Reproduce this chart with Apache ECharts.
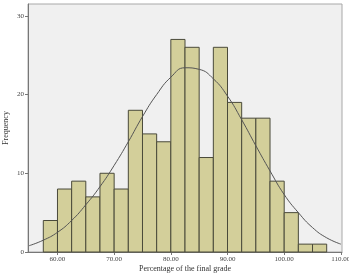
<!DOCTYPE html>
<html>
<head>
<meta charset="utf-8">
<script src="https://cdn.jsdelivr.net/npm/echarts@6/dist/echarts.min.js"></script>
<style>
  html, body { margin: 0; padding: 0; background: #fff; }
  #chart { width: 349px; height: 276px; }
</style>
</head>
<body>
<div id="chart"></div>
<script>
// histogram bins (lower edge) and counts
const binStart = [57.5, 60, 62.5, 65, 67.5, 70, 72.5, 75, 77.5, 80, 82.5, 85, 87.5, 90, 92.5, 95, 97.5, 100, 102.5, 105]
const binCount = [4, 8, 9, 7, 10, 8, 18, 15, 14, 27, 26, 12, 26, 19, 17, 17, 9, 5, 1, 1]
const binWidth = 2.5

// normal curve
const curveX = [55, 57.5, 60, 62.5, 65, 67.5, 70, 72.5, 75, 77.5, 80, 82.5, 85, 87.5, 90, 92.5, 95, 97.5, 100, 102.5, 105, 107.5, 110]
const curveY = [0.8, 1.5, 2.5, 4.0, 6.0, 8.3, 11.0, 14.0, 17.2, 20.0, 22.2, 23.4, 23.2, 22.0, 19.8, 16.8, 13.5, 10.3, 7.3, 5.0, 3.1, 1.8, 1.0]

const xTicks = [60, 70, 80, 90, 100, 110]
const yTicks = [0, 10, 20, 30]

const chart = echarts.init(document.getElementById('chart'))

const tickFont = { fontFamily: 'Liberation Serif', fontSize: 7, color: '#444' }

chart.setOption({
  animation: false,
  grid: {
    left: 28, right: 7, top: 4, bottom: 24,
    outerBoundsMode: 'none',
    containLabel: false,
    show: true,
    backgroundColor: '#F0F0F0',
    borderColor: '#A8A8A8',
    borderWidth: 1
  },
  xAxis: {
    type: 'value',
    min: 54.8,
    max: 110.2,
    name: 'Percentage of the final grade',
    nameLocation: 'middle',
    nameGap: 13,
    nameMoveOverlap: false,
    nameTextStyle: { fontFamily: 'Liberation Serif', fontSize: 8, color: '#333' },
    axisLine: { lineStyle: { color: '#777' } },
    axisTick: { customValues: xTicks, length: 3, lineStyle: { color: '#777' } },
    axisLabel: {
      customValues: xTicks,
      margin: 4,
      formatter: v => v.toFixed(2),
      ...tickFont
    },
    splitLine: { show: false }
  },
  yAxis: {
    type: 'value',
    min: 0,
    max: 31.5,
    name: 'Frequency',
    nameLocation: 'middle',
    nameGap: 18,
    nameMoveOverlap: false,
    nameTextStyle: { fontFamily: 'Liberation Serif', fontSize: 8, color: '#333' },
    axisLine: { show: true, lineStyle: { color: '#777' } },
    axisTick: { show: true, customValues: yTicks, length: 3, lineStyle: { color: '#777' } },
    axisLabel: { customValues: yTicks, margin: 4, ...tickFont },
    splitLine: { show: false }
  },
  series: [
    {
      type: 'custom',
      data: binStart.map((s, i) => [s, binCount[i]]),
      renderItem: (params, api) => {
        const x0 = api.value(0)
        const c = api.value(1)
        const p0 = api.coord([x0, c])
        const p1 = api.coord([x0 + binWidth, 0])
        return {
          type: 'rect',
          shape: { x: p0[0], y: p0[1], width: p1[0] - p0[0], height: p1[1] - p0[1] },
          style: { fill: '#D3CF9A', stroke: '#4a4a3a', lineWidth: 1 }
        }
      },
      encode: { x: 0, y: 1 }
    },
    {
      type: 'line',
      data: curveX.map((x, i) => [x, curveY[i]]),
      smooth: true,
      showSymbol: false,
      lineStyle: { color: '#555', width: 1 },
      z: 5
    }
  ]
})
</script>
</body>
</html>
